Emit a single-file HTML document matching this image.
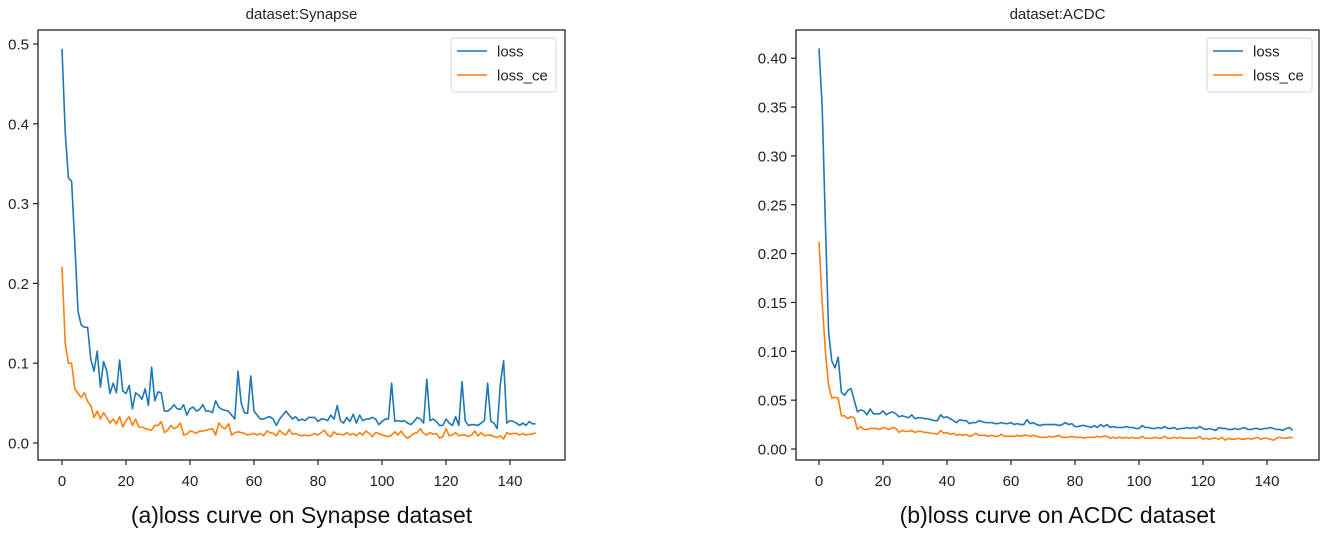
<!DOCTYPE html>
<html><head><meta charset="utf-8">
<style>
html,body{margin:0;padding:0;background:#fff;width:1325px;height:534px;overflow:hidden}
svg{display:block}
.tick{font-family:"Liberation Sans",sans-serif;font-size:15px;fill:#222}
.title{font-family:"Liberation Sans",sans-serif;font-size:15px;fill:#222}
.cap{font-family:"Liberation Sans",sans-serif;font-size:23px;fill:#111}
.leg{font-family:"Liberation Sans",sans-serif;font-size:15px;fill:#222}
</style></head>
<body>
<svg id="fig" width="1325" height="534" viewBox="0 0 1325 534"></svg>
<script>
const epochs = [];
for (let i = 0; i < 149; i++) epochs.push(i);
const synLoss = [0.494,0.39,0.332,0.328,0.25,0.165,0.148,0.145,0.145,0.105,0.09,0.115,0.07,0.102,0.09,0.062,0.075,0.063,0.104,0.065,0.062,0.072,0.043,0.063,0.06,0.055,0.068,0.047,0.095,0.053,0.064,0.063,0.04,0.04,0.043,0.048,0.043,0.042,0.048,0.035,0.043,0.045,0.04,0.042,0.048,0.04,0.04,0.038,0.053,0.045,0.042,0.041,0.04,0.035,0.03,0.09,0.05,0.038,0.037,0.084,0.04,0.035,0.03,0.03,0.032,0.033,0.03,0.022,0.03,0.035,0.04,0.035,0.03,0.033,0.028,0.03,0.028,0.032,0.032,0.032,0.027,0.03,0.03,0.028,0.035,0.03,0.047,0.028,0.025,0.032,0.027,0.036,0.025,0.035,0.028,0.03,0.03,0.032,0.03,0.023,0.027,0.03,0.03,0.075,0.027,0.028,0.027,0.028,0.025,0.023,0.027,0.032,0.03,0.025,0.08,0.028,0.03,0.027,0.022,0.022,0.03,0.025,0.022,0.033,0.022,0.077,0.028,0.022,0.023,0.023,0.022,0.025,0.028,0.075,0.027,0.025,0.018,0.075,0.103,0.025,0.028,0.027,0.025,0.022,0.025,0.022,0.027,0.024,0.024];
const synCe = [0.221,0.125,0.1,0.1,0.068,0.062,0.057,0.063,0.052,0.047,0.032,0.04,0.03,0.038,0.032,0.025,0.03,0.024,0.033,0.02,0.028,0.033,0.022,0.03,0.02,0.02,0.018,0.017,0.016,0.022,0.022,0.027,0.013,0.016,0.022,0.018,0.02,0.025,0.01,0.011,0.015,0.014,0.012,0.015,0.015,0.016,0.017,0.018,0.01,0.025,0.02,0.018,0.024,0.01,0.013,0.014,0.013,0.012,0.01,0.011,0.012,0.01,0.012,0.009,0.015,0.013,0.012,0.009,0.016,0.012,0.01,0.017,0.011,0.012,0.01,0.009,0.01,0.009,0.01,0.012,0.01,0.013,0.016,0.01,0.008,0.014,0.011,0.011,0.01,0.013,0.01,0.012,0.009,0.013,0.01,0.015,0.012,0.008,0.013,0.012,0.01,0.009,0.008,0.01,0.014,0.01,0.015,0.009,0.006,0.009,0.012,0.013,0.018,0.012,0.01,0.013,0.011,0.012,0.006,0.008,0.018,0.009,0.01,0.013,0.009,0.01,0.01,0.008,0.01,0.015,0.009,0.013,0.009,0.01,0.01,0.008,0.007,0.009,0.005,0.013,0.011,0.012,0.012,0.01,0.012,0.01,0.011,0.011,0.013];
const acdcLoss = [0.41,0.35,0.23,0.12,0.09,0.083,0.094,0.058,0.055,0.06,0.062,0.05,0.038,0.04,0.039,0.035,0.041,0.036,0.036,0.036,0.039,0.035,0.037,0.038,0.036,0.033,0.034,0.033,0.032,0.035,0.031,0.032,0.032,0.031,0.031,0.03,0.029,0.029,0.035,0.032,0.033,0.031,0.029,0.027,0.03,0.029,0.029,0.026,0.027,0.027,0.029,0.028,0.027,0.027,0.027,0.026,0.026,0.027,0.026,0.026,0.027,0.025,0.026,0.025,0.025,0.03,0.026,0.027,0.025,0.024,0.025,0.025,0.025,0.025,0.025,0.024,0.025,0.027,0.025,0.026,0.023,0.023,0.024,0.024,0.023,0.022,0.024,0.022,0.025,0.023,0.025,0.022,0.023,0.022,0.022,0.022,0.023,0.022,0.022,0.021,0.021,0.024,0.022,0.022,0.021,0.021,0.022,0.021,0.023,0.021,0.021,0.022,0.02,0.021,0.021,0.022,0.021,0.022,0.021,0.023,0.021,0.02,0.021,0.02,0.019,0.022,0.021,0.021,0.02,0.02,0.021,0.02,0.021,0.022,0.02,0.02,0.021,0.021,0.02,0.021,0.021,0.022,0.021,0.02,0.02,0.019,0.021,0.022,0.019];
const acdcCe = [0.212,0.15,0.1,0.065,0.052,0.053,0.052,0.034,0.034,0.031,0.033,0.032,0.02,0.023,0.02,0.02,0.021,0.021,0.021,0.02,0.022,0.021,0.02,0.022,0.021,0.017,0.019,0.018,0.018,0.019,0.017,0.018,0.018,0.017,0.017,0.016,0.016,0.015,0.019,0.016,0.017,0.015,0.016,0.014,0.015,0.014,0.015,0.013,0.014,0.016,0.014,0.014,0.014,0.013,0.014,0.013,0.013,0.015,0.013,0.013,0.013,0.013,0.014,0.013,0.014,0.014,0.013,0.014,0.013,0.012,0.012,0.012,0.013,0.012,0.013,0.014,0.012,0.012,0.012,0.013,0.012,0.012,0.012,0.011,0.012,0.012,0.012,0.013,0.012,0.013,0.013,0.011,0.012,0.011,0.012,0.011,0.012,0.011,0.012,0.011,0.011,0.013,0.011,0.011,0.011,0.012,0.011,0.011,0.013,0.011,0.011,0.012,0.011,0.012,0.011,0.011,0.011,0.011,0.011,0.013,0.01,0.011,0.01,0.011,0.011,0.01,0.012,0.009,0.011,0.01,0.01,0.011,0.01,0.01,0.011,0.01,0.011,0.012,0.01,0.011,0.011,0.01,0.009,0.011,0.012,0.011,0.011,0.012,0.011];
const xTicks = [0,20,40,60,80,100,120,140];
const synYTicks = [0.0,0.1,0.2,0.3,0.4,0.5];
const synYLabels = ["0.0","0.1","0.2","0.3","0.4","0.5"];
const acdcYTicks = [0,0.05,0.1,0.15,0.2,0.25,0.3,0.35,0.4];
const acdcYLabels = ["0.00","0.05","0.10","0.15","0.20","0.25","0.30","0.35","0.40"];

const NS = "http://www.w3.org/2000/svg";
const fig = document.getElementById('fig');
function mk(tag, attrs, parent) {
  const e = document.createElementNS(NS, tag);
  for (const k in attrs) e.setAttribute(k, attrs[k]);
  (parent || fig).appendChild(e);
  return e;
}

function drawChart(cfg) {
  const g = mk('g', {});
  
  
  const xs = v => cfg.x0 + v * cfg.xk;
  const ys = v => cfg.y0 - v * cfg.yk;
  const series = [[cfg.loss, '#1f77b4', 'loss-line'], [cfg.ce, '#ff7f0e', 'loss-ce-line']];
  series.forEach(s => {
    const d = s[0].map((v, i) => (i ? 'L' : 'M') + xs(epochs[i]).toFixed(2) + ' ' + ys(v).toFixed(2)).join(' ');
    const p = mk('path', {d: d, fill: 'none', stroke: s[1], 'stroke-width': 1.6, 'stroke-linejoin': 'round'}, g);
    
    
  });
  const fr = mk('rect', {x: cfg.bx0, y: cfg.by0, width: cfg.bx1 - cfg.bx0, height: cfg.by1 - cfg.by0, fill: 'none', stroke: '#222', 'stroke-width': 1.3}, g);
  
  
  xTicks.forEach(t => {
    const x = xs(t);
    mk('line', {x1: x, x2: x, y1: cfg.by1, y2: cfg.by1 + 5, stroke: '#222', 'stroke-width': 1.2}, g);
    const tx = mk('text', {x: x, y: cfg.by1 + 26, 'text-anchor': 'middle', class: 'tick'}, g);
    tx.textContent = t;
    
    
  });
  cfg.yt.forEach((t, i) => {
    const y = ys(t);
    mk('line', {x1: cfg.bx0 - 5, x2: cfg.bx0, y1: y, y2: y, stroke: '#222', 'stroke-width': 1.2}, g);
    const tx = mk('text', {x: cfg.bx0 - 9, y: y + 5.5, 'text-anchor': 'end', class: 'tick'}, g);
    tx.textContent = cfg.yl[i];
    
    
  });
  const ti = mk('text', {x: (cfg.bx0 + cfg.bx1) / 2, y: 19, 'text-anchor': 'middle', class: 'title'}, g);
  ti.textContent = cfg.title;
  
  
  const ca = mk('text', {x: (cfg.bx0 + cfg.bx1) / 2, y: 523, 'text-anchor': 'middle', class: 'cap'}, g);
  ca.textContent = cfg.caption;
  
  
  const lg = mk('g', {}, g);
  
  
  mk('rect', {x: cfg.lx, y: 38, width: 105, height: 54, rx: 3, fill: '#fff', stroke: '#ddd', 'stroke-width': 1.2}, lg);
  [['loss', '#1f77b4', 51], ['loss_ce', '#ff7f0e', 75]].forEach(e => {
    mk('line', {x1: cfg.lx + 6, x2: cfg.lx + 36, y1: e[2], y2: e[2], stroke: e[1], 'stroke-width': 1.6}, lg);
    const t = mk('text', {x: cfg.lx + 46, y: e[2] + 5.5, class: 'leg'}, lg);
    t.textContent = e[0];
    
    
  });
}

drawChart({name: 'synapse-chart', title: 'dataset:Synapse', caption: '(a)loss curve on Synapse dataset',
  loss: synLoss, ce: synCe, yt: synYTicks, yl: synYLabels,
  x0: 62, xk: 3.2, y0: 443, yk: 798, bx0: 38, bx1: 565, by0: 30, by1: 460, lx: 451});
drawChart({name: 'acdc-chart', title: 'dataset:ACDC', caption: '(b)loss curve on ACDC dataset',
  loss: acdcLoss, ce: acdcCe, yt: acdcYTicks, yl: acdcYLabels,
  x0: 819, xk: 3.2, y0: 449, yk: 977, bx0: 796, bx1: 1319, by0: 30, by1: 460, lx: 1207});
</script>
</body></html>
